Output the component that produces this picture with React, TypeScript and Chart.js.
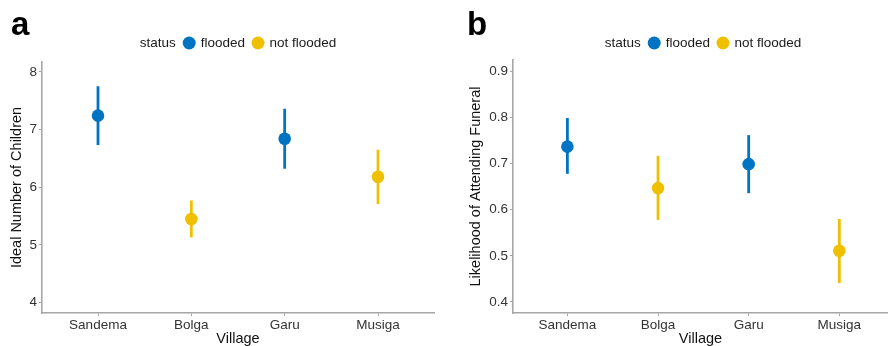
import React, { useEffect, useRef } from 'react';
import { Chart, registerables } from 'chart.js';

Chart.register(...registerables);

// ---------- data ----------
const villages = ['Sandema', 'Bolga', 'Garu', 'Musiga'];
const status = ['flooded', 'not flooded', 'flooded', 'not flooded'];
const legendTitle = 'status';
const legendLabels = ['flooded', 'not flooded'];

const childrenMean = [7.24, 5.45, 6.84, 6.18];
const childrenLow = [6.73, 5.13, 6.32, 5.71];
const childrenHigh = [7.75, 5.77, 7.36, 6.65];
const childrenTicks = [4, 5, 6, 7, 8];

const funeralMean = [0.737, 0.647, 0.699, 0.511];
const funeralLow = [0.678, 0.578, 0.636, 0.441];
const funeralHigh = [0.799, 0.717, 0.762, 0.58];
const funeralTicks = [0.4, 0.5, 0.6, 0.7, 0.8, 0.9];

// ---------- styles ----------
const COLORS: Record<string, string> = { flooded: '#0073C2', 'not flooded': '#EFC000' };
const FONT = "'Liberation Sans', Arial, Helvetica, sans-serif";
const AXIS_COLOR = '#A6A6A6';
const TICK_TEXT = '#333333';

type PanelSpec = {
  panel: string;
  panelX: number;
  mean: number[];
  low: number[];
  high: number[];
  ticks: number[];
  decimals: number;
  yMin: number;
  yMax: number;
  xMax: number;
  yTitle: string;
  yAxisWidth: number;
  yTitlePad: number;
  padTop: number;
  padRight: number;
  legendCx: number;
};

function makeConfig(s: PanelSpec): any {
  const colorOf = (i: number) => COLORS[status[i]];
  const errorBars = {
    id: 'errorBars',
    beforeDatasetsDraw(chart: any) {
      const { ctx, scales } = chart;
      const x = scales.x;
      const y = scales.y;
      s.low.forEach((lo, i) => {
        const px = x.getPixelForValue(i);
        ctx.save();
        ctx.strokeStyle = colorOf(i);
        ctx.lineWidth = 2.8;
        ctx.lineCap = 'butt';
        ctx.beginPath();
        ctx.moveTo(px, y.getPixelForValue(lo));
        ctx.lineTo(px, y.getPixelForValue(s.high[i]));
        ctx.stroke();
        ctx.restore();
      });
    },
  };
  const decorations = {
    id: 'decorations',
    afterDraw(chart: any) {
      const ctx = chart.ctx;
      ctx.save();
      // panel letter
      ctx.fillStyle = '#000';
      ctx.font = `bold 33px ${FONT}`;
      ctx.textBaseline = 'alphabetic';
      ctx.textAlign = 'left';
      ctx.fillText(s.panel, s.panelX, 35);
      // legend
      ctx.font = `13.5px ${FONT}`;
      ctx.textBaseline = 'middle';
      const r = 6.5;
      const wTitle = ctx.measureText(legendTitle).width;
      const widths = legendLabels.map((l) => ctx.measureText(l).width);
      const total = wTitle + 7 + widths.reduce((a, w) => a + 2 * r + 5 + w, 0) + 6.5 * (legendLabels.length - 1);
      let cx = s.legendCx - total / 2;
      const cy = 43;
      ctx.fillStyle = '#1a1a1a';
      ctx.fillText(legendTitle, cx, cy);
      cx += wTitle + 7;
      legendLabels.forEach((l, i) => {
        ctx.beginPath();
        ctx.fillStyle = COLORS[l];
        ctx.arc(cx + r, cy, r, 0, Math.PI * 2);
        ctx.fill();
        cx += 2 * r + 5;
        ctx.fillStyle = '#1a1a1a';
        ctx.fillText(l, cx, cy);
        cx += widths[i] + 6.5;
      });
      ctx.restore();
    },
  };

  return {
    type: 'scatter',
    data: {
      datasets: [
        {
          data: s.mean.map((m, i) => ({ x: i, y: m })),
          pointRadius: 6.3,
          pointHoverRadius: 6.3,
          pointBorderWidth: 0,
          pointBackgroundColor: s.mean.map((_, i) => colorOf(i)),
          pointBorderColor: s.mean.map((_, i) => colorOf(i)),
        },
      ],
    },
    options: {
      responsive: false,
      animation: false,
      devicePixelRatio: 1,
      layout: { autoPadding: false, padding: { top: s.padTop, right: s.padRight, left: 0, bottom: 0 } },
      plugins: { legend: { display: false }, tooltip: { enabled: false }, title: { display: false } },
      scales: {
        x: {
          type: 'linear',
          min: -0.6,
          max: s.xMax,
          afterBuildTicks: (scale: any) => {
            scale.ticks = villages.map((_, i) => ({ value: i }));
          },
          afterFit: (scale: any) => {
            scale.height = 33;
            scale.paddingLeft = 0;
            scale.paddingRight = 0;
          },
          ticks: {
            autoSkip: false,
            maxRotation: 0,
            padding: 1.5,
            color: TICK_TEXT,
            font: { family: FONT, size: 13.5 },
            callback: (v: number) => villages[Math.round(v)] ?? '',
          },
          grid: { display: true, drawOnChartArea: false, drawTicks: true, tickLength: 3, tickColor: AXIS_COLOR, tickWidth: 1 },
          border: { display: true, color: AXIS_COLOR, width: 1.6 },
          title: {
            display: true,
            text: 'Village',
            color: '#111',
            font: { family: FONT, size: 14.5, lineHeight: 1 },
            padding: 0,
          },
        },
        y: {
          type: 'linear',
          min: s.yMin,
          max: s.yMax,
          afterBuildTicks: (scale: any) => {
            scale.ticks = s.ticks.map((v) => ({ value: v }));
          },
          afterFit: (scale: any) => {
            scale.width = s.yAxisWidth;
            scale.paddingTop = 0;
            scale.paddingBottom = 0;
          },
          ticks: {
            padding: 2,
            color: TICK_TEXT,
            font: { family: FONT, size: 13.5 },
            callback: (v: number) => v.toFixed(s.decimals),
          },
          grid: { display: true, drawOnChartArea: false, drawTicks: true, tickLength: 3, tickColor: AXIS_COLOR, tickWidth: 1 },
          border: { display: true, color: AXIS_COLOR, width: 1.6 },
          title: {
            display: true,
            text: s.yTitle,
            color: '#111',
            font: { family: FONT, size: 14.5, lineHeight: 1 },
            padding: { top: s.yTitlePad, bottom: 0 },
          },
        },
      },
    },
    plugins: [errorBars, decorations],
  };
}

const panelA: PanelSpec = {
  panel: 'a',
  panelX: 11,
  mean: childrenMean,
  low: childrenLow,
  high: childrenHigh,
  ticks: childrenTicks,
  decimals: 0,
  yMin: 3.82,
  yMax: 8.17,
  xMax: 3.6,
  yTitle: 'Ideal Number of Children',
  yAxisWidth: 42,
  yTitlePad: 9.25,
  padTop: 62,
  padRight: 10,
  legendCx: 238,
};

const panelB: PanelSpec = {
  panel: 'b',
  panelX: 23,
  mean: funeralMean,
  low: funeralLow,
  high: funeralHigh,
  ticks: funeralTicks,
  decimals: 1,
  yMin: 0.376,
  yMax: 0.925,
  xMax: 3.537,
  yTitle: 'Likelihood of Attending Funeral',
  yAxisWidth: 69,
  yTitlePad: 24.75,
  padTop: 60,
  padRight: 0,
  legendCx: 259,
};

function Panel({ spec, left }: { spec: PanelSpec; left: number }) {
  const ref = useRef<HTMLCanvasElement | null>(null);
  useEffect(() => {
    if (!ref.current) return;
    const chart = new Chart(ref.current, makeConfig(spec));
    return () => chart.destroy();
  }, [spec]);
  return (
    <canvas
      ref={ref}
      width={444}
      height={346}
      style={{ position: 'absolute', left, top: 0, width: 444, height: 346, display: 'block' }}
    />
  );
}

export default function App() {
  return (
    <div style={{ position: 'absolute', left: 0, top: 0, width: 888, height: 346, background: '#fff', overflow: 'hidden' }}>
      <Panel spec={panelA} left={0} />
      <Panel spec={panelB} left={444} />
    </div>
  );
}
